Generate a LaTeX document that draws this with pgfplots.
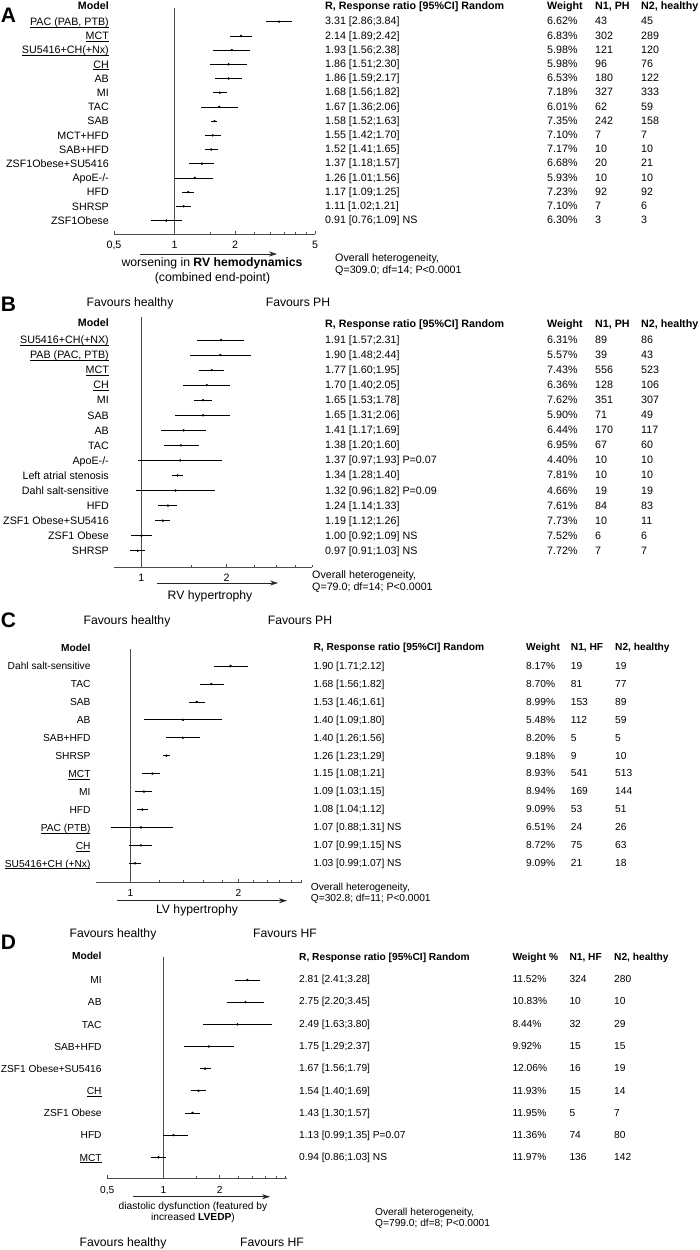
\documentclass[border=0pt]{standalone}
\usepackage{fontspec}
\setmainfont{Liberation Sans}
\usepackage{pgfplots}
\pgfplotsset{compat=1.18}
\usepackage{pgfplotstable}
\usetikzlibrary{arrows.meta}

\newcommand\fA{\fontsize{10.7}{12}\selectfont}
\newcommand\fC{\fontsize{10.2}{12}\selectfont}
\newcommand\fH{\fontsize{12.2}{14}\selectfont}
\newcommand\fL{\fontsize{21}{24}\selectfont\bfseries}
\newsavebox\ulbox
\newcommand\ul[1]{\sbox\ulbox{#1}\leavevmode\rlap{\rule[-1.9pt]{\wd\ulbox}{0.55pt}}\usebox\ulbox}

\pgfplotstableread{
y r lo hi
-1 3.31 2.86 3.84
-2 2.14 1.89 2.42
-3 1.93 1.56 2.38
-4 1.86 1.51 2.30
-5 1.86 1.59 2.17
-6 1.68 1.56 1.82
-7 1.67 1.36 2.06
-8 1.58 1.52 1.63
-9 1.55 1.42 1.70
-10 1.52 1.41 1.65
-11 1.37 1.18 1.57
-12 1.26 1.01 1.56
-13 1.17 1.09 1.25
-14 1.11 1.02 1.21
-15 0.91 0.76 1.09
}\dataA

\pgfplotstableread{
y r lo hi
-1 1.91 1.57 2.31
-2 1.90 1.48 2.44
-3 1.77 1.60 1.95
-4 1.70 1.40 2.05
-5 1.65 1.53 1.78
-6 1.65 1.31 2.06
-7 1.41 1.17 1.69
-8 1.38 1.20 1.60
-9 1.37 0.97 1.93
-10 1.34 1.28 1.40
-11 1.32 0.96 1.82
-12 1.24 1.14 1.33
-13 1.19 1.12 1.26
-14 1.00 0.92 1.09
-15 0.97 0.91 1.03
}\dataB

\pgfplotstableread{
y r lo hi
-1 1.90 1.71 2.12
-2 1.68 1.56 1.82
-3 1.53 1.46 1.61
-4 1.40 1.09 1.80
-5 1.40 1.26 1.56
-6 1.26 1.23 1.29
-7 1.15 1.08 1.21
-8 1.09 1.03 1.15
-9 1.08 1.04 1.12
-10 1.07 0.88 1.31
-11 1.07 0.99 1.15
-12 1.03 0.99 1.07
}\dataC

\pgfplotstableread{
y r lo hi
-1 2.81 2.41 3.28
-2 2.75 2.20 3.45
-3 2.49 1.63 3.80
-4 1.75 1.29 2.37
-5 1.67 1.56 1.79
-6 1.54 1.40 1.69
-7 1.43 1.30 1.57
-8 1.13 0.99 1.35
-9 0.94 0.86 1.03
}\dataD

\pgfplotsset{
  forest/.style={
    scale only axis, anchor=south west, clip=false,
    axis x line*=bottom, axis y line*=left,
    y axis line style={draw=none}, ytick style={draw=none},
    x axis line style={draw=black!70, line width=0.6pt},
    xtick style={draw=black!70, line width=0.5pt},
    tick align=inside, major tick length=3pt, minor tick length=2.5pt,
    xticklabel style={inner sep=0pt, yshift=-7pt, text height=7.5pt, text depth=0pt},
    yticklabel style={inner sep=0pt, xshift=-5pt, text height=7.5pt, text depth=0pt, anchor=east},
  },
  ci/.style={only marks, mark=*, mark size=1pt, black,
    error bars/x dir=both, error bars/x explicit, error bars/error mark=none,
    error bars/error bar style={black, line width=0.7pt}},
  refl/.style={black!70, line width=0.8pt, no marks},
}

\tikzset{
  tA/.style={font=\fA, inner sep=0pt, text height=7.7pt, text depth=0pt},
  tAb/.style={font=\fA\bfseries, inner sep=0pt, text height=7.7pt, text depth=0pt},
  tC/.style={font=\fC, inner sep=0pt, text height=7.3pt, text depth=0pt},
  tCb/.style={font=\fC\bfseries, inner sep=0pt, text height=7.3pt, text depth=0pt},
  tH/.style={font=\fH, inner sep=0pt, text height=8.7pt, text depth=0pt},
  tL/.style={font=\fL, inner sep=0pt, text height=15pt, text depth=0pt},
  arr/.style={-{Stealth[length=8pt,width=5pt]}, line width=0.6pt, black!85},
}

\begin{document}
\begin{tikzpicture}
\path[use as bounding box] (0pt,0pt) rectangle (699pt,-1250pt);

% ---------------- A ----------------
\begin{axis}[xmode=log, forest, at={(114pt,-234pt)}, width=201pt, height=226pt,
  xmin=0.5, xmax=5, ymin=-15.95, ymax=-0.035,
  xtick={0.5,1,2,5}, xticklabels={{0,5},1,2,5},
  minor xtick={1.5,2.5,3,3.5,4,4.5},
  xticklabel style={font=\fA},
  ytick={-1,-2,...,-15}, yticklabel style={font=\fA},
  yticklabels={{\ul{PAC (PAB, PTB)}},\ul{MCT},{\ul{SU5416+CH(+Nx)}},\ul{CH},AB,MI,TAC,SAB,MCT+HFD,SAB+HFD,ZSF1Obese+SU5416,ApoE-/-,HFD,SHRSP,ZSF1Obese}]
\addplot[refl] coordinates {(1,-0.035) (1,-15.95)};
\addplot[ci] table[x=r, y=y, x error plus expr=\thisrow{hi}-\thisrow{r}, x error minus expr=\thisrow{r}-\thisrow{lo}] {\dataA};
\end{axis}

% ---------------- B ----------------
\begin{axis}[xmode=log, forest, at={(114pt,-567pt)}, width=198pt, height=250pt,
  xmin=0.8, xmax=4, ymin=-16.08, ymax=0.528,
  xtick={1,2}, xticklabels={1,2},
  minor xtick={1.5,2.5,3,3.5,4},
  xticklabel style={font=\fA},
  ytick={-1,-2,...,-15}, yticklabel style={font=\fA},
  yticklabels={{\ul{SU5416+CH(+NX)}},{\ul{PAB (PAC, PTB)}},\ul{MCT},\ul{CH},MI,SAB,AB,TAC,ApoE-/-,Left atrial stenosis,Dahl salt-sensitive,HFD,ZSF1 Obese+SU5416,ZSF1 Obese,SHRSP}]
\addplot[refl] coordinates {(1,0.528) (1,-16.08)};
\addplot[ci] table[x=r, y=y, x error plus expr=\thisrow{hi}-\thisrow{r}, x error minus expr=\thisrow{r}-\thisrow{lo}] {\dataB};
\end{axis}

% ---------------- C ----------------
\begin{axis}[xmode=log, forest, at={(95.7pt,-882pt)}, width=206pt, height=233pt,
  xmin=0.8, xmax=3, ymin=-13.04, ymax=-0.052,
  xtick={1,2}, xticklabels={1,2},
  minor xtick={1.2,1.4,1.6,1.8,2.2,2.4,2.6,2.8,3},
  xticklabel style={font=\fC},
  ytick={-1,-2,...,-12}, yticklabel style={font=\fC},
  yticklabels={Dahl salt-sensitive,TAC,SAB,AB,SAB+HFD,SHRSP,\ul{MCT},MI,HFD,{\ul{PAC (PTB)}},\ul{CH},{\ul{SU5416+CH (+Nx)}}}]
\addplot[refl] coordinates {(1,-0.052) (1,-13.04)};
\addplot[ci] table[x=r, y=y, x error plus expr=\thisrow{hi}-\thisrow{r}, x error minus expr=\thisrow{r}-\thisrow{lo}] {\dataC};
\end{axis}

% ---------------- D ----------------
\begin{axis}[xmode=log, forest, at={(107.3pt,-1178.3pt)}, width=180pt, height=221.6pt,
  xmin=0.5, xmax=4.6, ymin=-9.95, ymax=0.051,
  xtick={0.5,1,2}, xticklabels={{0,5},1,2},
  minor xtick={1.5,2.5,3,3.5,4,4.5},
  xticklabel style={font=\fC},
  ytick={-1,-2,...,-9}, yticklabel style={font=\fC, xshift=-0.5pt},
  yticklabels={MI,AB,TAC,SAB+HFD,ZSF1 Obese+SU5416,\ul{CH},ZSF1 Obese,HFD,\ul{MCT}}]
\addplot[refl] coordinates {(1,0.051) (1,-9.95)};
\addplot[ci] table[x=r, y=y, x error plus expr=\thisrow{hi}-\thisrow{r}, x error minus expr=\thisrow{r}-\thisrow{lo}] {\dataD};
\end{axis}

\begin{scope}[x=1pt,y=-1pt]
% ===== A texts =====
\node[tL] at (8.5,15) {A};
\node[tAb, anchor=east] at (109,6) {Model};
\node[tAb, anchor=west] at (325,6) {R, Response ratio [95\%CI] Random};
\node[tAb, anchor=west] at (547,6) {Weight};
\node[tAb, anchor=west] at (595,6) {N1, PH};
\node[tAb, anchor=west] at (641,6) {N2, healthy};
\foreach \r/\w/\a/\b [count=\i] in {
 3.31 [2.86;3.84]/6.62\%/43/45,
 2.14 [1.89;2.42]/6.83\%/302/289,
 1.93 [1.56;2.38]/5.98\%/121/120,
 1.86 [1.51;2.30]/5.98\%/96/76,
 1.86 [1.59;2.17]/6.53\%/180/122,
 1.68 [1.56;1.82]/7.18\%/327/333,
 1.67 [1.36;2.06]/6.01\%/62/59,
 1.58 [1.52;1.63]/7.35\%/242/158,
 1.55 [1.42;1.70]/7.10\%/7/7,
 1.52 [1.41;1.65]/7.17\%/10/10,
 1.37 [1.18;1.57]/6.68\%/20/21,
 1.26 [1.01;1.56]/5.93\%/10/10,
 1.17 [1.09;1.25]/7.23\%/92/92,
 1.11 [1.02;1.21]/7.10\%/7/6,
 0.91 [0.76;1.09] NS/6.30\%/3/3}{
  \node[tA, anchor=west] at (325,{21+14.2*(\i-1)}) {\r};
  \node[tA, anchor=west] at (547,{21+14.2*(\i-1)}) {\w};
  \node[tA, anchor=west] at (595,{21+14.2*(\i-1)}) {\a};
  \node[tA, anchor=west] at (641,{21+14.2*(\i-1)}) {\b};
}
\draw[arr] (140,254) -- (277,254);
\node[tH] at (212,262.5) {worsening in \textbf{RV hemodynamics}};
\node[tH] at (212.5,277) {(combined end-point)};
\node[tA, anchor=west] at (335,258) {Overall heterogeneity,};
\node[tA, anchor=west] at (335,270) {Q=309.0; df=14; P<0.0001};

% ===== B texts =====
\node[tL] at (8.5,304) {B};
\node[tH] at (130,302) {Favours healthy};
\node[tH] at (298,302) {Favours PH};
\node[tAb, anchor=east] at (109,323) {Model};
\node[tAb, anchor=west] at (325,324) {R, Response ratio [95\%CI] Random};
\node[tAb, anchor=west] at (547,324) {Weight};
\node[tAb, anchor=west] at (595,324) {N1, PH};
\node[tAb, anchor=west] at (641,324) {N2, healthy};
\foreach \r/\w/\a/\b [count=\i] in {
 1.91 [1.57;2.31]/6.31\%/89/86,
 1.90 [1.48;2.44]/5.57\%/39/43,
 1.77 [1.60;1.95]/7.43\%/556/523,
 1.70 [1.40;2.05]/6.36\%/128/106,
 1.65 [1.53;1.78]/7.62\%/351/307,
 1.65 [1.31;2.06]/5.90\%/71/49,
 1.41 [1.17;1.69]/6.44\%/170/117,
 1.38 [1.20;1.60]/6.95\%/67/60,
 1.37 [0.97;1.93] P=0.07/4.40\%/10/10,
 1.34 [1.28;1.40]/7.81\%/10/10,
 1.32 [0.96;1.82] P=0.09/4.66\%/19/19,
 1.24 [1.14;1.33]/7.61\%/84/83,
 1.19 [1.12;1.26]/7.73\%/10/11,
 1.00 [0.92;1.09] NS/7.52\%/6/6,
 0.97 [0.91;1.03] NS/7.72\%/7/7}{
  \node[tA, anchor=west] at (325,{339.5+15.07*(\i-1)}) {\r};
  \node[tA, anchor=west] at (547,{339.5+15.07*(\i-1)}) {\w};
  \node[tA, anchor=west] at (595,{339.5+15.07*(\i-1)}) {\a};
  \node[tA, anchor=west] at (641,{339.5+15.07*(\i-1)}) {\b};
}
\draw[arr] (157,583) -- (278,583);
\node[tH] at (210,595) {RV hypertrophy};
\node[tA, anchor=west] at (312,575) {Overall heterogeneity,};
\node[tA, anchor=west] at (312,587) {Q=79.0; df=14; P<0.0001};

% ===== C texts =====
\node[tL] at (8.5,620) {C};
\node[tH] at (127,620) {Favours healthy};
\node[tH] at (300,620) {Favours PH};
\node[tCb, anchor=east] at (90.7,648) {Model};
\node[tCb, anchor=west] at (313.3,647.3) {R, Response ratio [95\%CI] Random};
\node[tCb, anchor=west] at (526,647.3) {Weight};
\node[tCb, anchor=west] at (570.7,647.3) {N1, HF};
\node[tCb, anchor=west] at (615,647.3) {N2, healthy};
\foreach \r/\w/\a/\b [count=\i] in {
 1.90 [1.71;2.12]/8.17\%/19/19,
 1.68 [1.56;1.82]/8.70\%/81/77,
 1.53 [1.46;1.61]/8.99\%/153/89,
 1.40 [1.09;1.80]/5.48\%/112/59,
 1.40 [1.26;1.56]/8.20\%/5/5,
 1.26 [1.23;1.29]/9.18\%/9/10,
 1.15 [1.08;1.21]/8.93\%/541/513,
 1.09 [1.03;1.15]/8.94\%/169/144,
 1.08 [1.04;1.12]/9.09\%/53/51,
 1.07 [0.88;1.31] NS/6.51\%/24/26,
 1.07 [0.99;1.15] NS/8.72\%/75/63,
 1.03 [0.99;1.07] NS/9.09\%/21/18}{
  \node[tC, anchor=west] at (313.3,{665.7+17.94*(\i-1)}) {\r};
  \node[tC, anchor=west] at (526,{665.7+17.94*(\i-1)}) {\w};
  \node[tC, anchor=west] at (570.7,{665.7+17.94*(\i-1)}) {\a};
  \node[tC, anchor=west] at (615,{665.7+17.94*(\i-1)}) {\b};
}
\draw[arr] (117,900.7) -- (287,900.7);
\node[tH] at (197,909.5) {LV hypertrophy};
\node[tC, anchor=west] at (310.7,886.7) {Overall heterogeneity,};
\node[tC, anchor=west] at (310.7,898) {Q=302.8; df=11; P<0.0001};

% ===== D texts =====
\node[tL] at (8.5,941.5) {D};
\node[tH] at (113,932.7) {Favours healthy};
\node[tH] at (285,933) {Favours HF};
\node[tCb, anchor=east] at (101.7,955.7) {Model};
\node[tCb, anchor=west] at (299,956.7) {R, Response ratio [95\%CI] Random};
\node[tCb, anchor=west] at (512.3,956.7) {Weight \%};
\node[tCb, anchor=west] at (569.3,956.7) {N1, HF};
\node[tCb, anchor=west] at (614,956.7) {N2, healthy};
\foreach \r/\w/\a/\b [count=\i] in {
 2.81 [2.41;3.28]/11.52\%/324/280,
 2.75 [2.20;3.45]/10.83\%/10/10,
 2.49 [1.63;3.80]/8.44\%/32/29,
 1.75 [1.29;2.37]/9.92\%/15/15,
 1.67 [1.56;1.79]/12.06\%/16/19,
 1.54 [1.40;1.69]/11.93\%/15/14,
 1.43 [1.30;1.57]/11.95\%/5/7,
 1.13 [0.99;1.35] P=0.07/11.36\%/74/80,
 0.94 [0.86;1.03] NS/11.97\%/136/142}{
  \node[tC, anchor=west] at (299,{979+22.29*(\i-1)}) {\r};
  \node[tC, anchor=west] at (512.3,{979+22.29*(\i-1)}) {\w};
  \node[tC, anchor=west] at (569.3,{979+22.29*(\i-1)}) {\a};
  \node[tC, anchor=west] at (614,{979+22.29*(\i-1)}) {\b};
}
\draw[arr] (133,1196.7) -- (270,1196.7);
\node[tC] at (193,1205.7) {diastolic dysfunction (featured by};
\node[tC] at (193,1216.7) {increased \textbf{LVEDP})};
\node[tC, anchor=west] at (375,1211.7) {Overall heterogeneity,};
\node[tC, anchor=west] at (375,1223.3) {Q=799.0; df=8; P<0.0001};
\node[tH] at (123,1241.7) {Favours healthy};
\node[tH] at (272,1241.7) {Favours HF};
\end{scope}
\end{tikzpicture}
\end{document}
